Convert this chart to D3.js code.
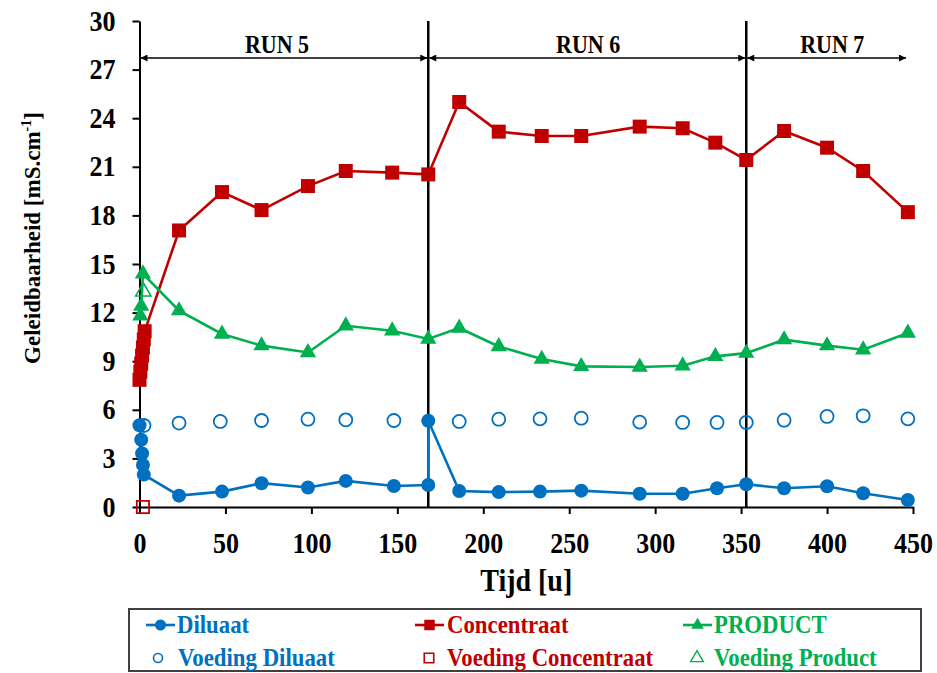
<!DOCTYPE html>
<html>
<head>
<meta charset="utf-8">
<script src="https://cdn.jsdelivr.net/npm/d3@7"></script>
<style>
  body { margin: 0; background: #fff; }
  svg text { font-family: "Liberation Serif", "Times New Roman", serif; font-weight: bold; }
  .stretch { transform-box: fill-box; transform-origin: 50% 50%; transform: scaleY(1.1); }
</style>
</head>
<body>
<div class="chart"></div>
<script>
// data (time in hours, conductivity in mS/cm)
var diluaatTijd = [0, 1, 1.5, 2, 2.5, 23, 48, 71, 98, 120, 148, 168, 168, 186, 209, 233, 257, 291, 316, 336, 353, 375, 400, 421, 447];
var diluaat     = [5.05, 4.15, 3.3, 2.6, 2.0, 0.7, 0.95, 1.47, 1.2, 1.61, 1.3, 1.36, 5.32, 0.99, 0.92, 0.95, 1.01, 0.82, 0.82, 1.16, 1.4, 1.16, 1.28, 0.85, 0.43];

var concentraatTijd = [0, 0.5, 1, 1.5, 2, 2.5, 3, 23, 48, 71, 98, 120, 147, 168, 186, 209, 234, 257, 291, 316, 335, 353, 375, 400, 421, 447];
var concentraat     = [7.85, 8.35, 8.85, 9.35, 9.85, 10.35, 10.85, 17.07, 19.44, 18.33, 19.81, 20.74, 20.64, 20.53, 25.0, 23.17, 22.9, 22.9, 23.48, 23.38, 22.49, 21.42, 23.21, 22.18, 20.74, 18.2];

var productTijd = [0.5, 1, 2, 23, 48, 71, 98, 120, 147, 168, 186, 209, 234, 257, 291, 316, 335, 353, 375, 400, 421, 447];
var product     = [11.8, 12.4, 14.4, 12.12, 10.68, 9.96, 9.54, 11.19, 10.88, 10.37, 11.05, 9.91, 9.13, 8.68, 8.64, 8.72, 9.3, 9.5, 10.33, 9.96, 9.71, 10.74];

var voedingDiluaatTijd = [2.6, 23, 47, 71, 98, 120, 148, 186, 209, 233, 257, 291, 316, 336, 353, 375, 400, 421, 447];
var voedingDiluaat     = [5.03, 5.18, 5.28, 5.34, 5.42, 5.38, 5.34, 5.28, 5.42, 5.44, 5.48, 5.24, 5.22, 5.22, 5.22, 5.36, 5.59, 5.63, 5.44];

var voedingConcentraatTijd = [2];
var voedingConcentraat     = [0];

var voedingProductTijd = [2.2];
var voedingProduct     = [13.3];

var runGrenzen = [0, 168, 353, 446.5];
var runNamen = ["RUN 5", "RUN 6", "RUN 7"];
var runLabelTijd = [80, 261, 403];

var xTicks = [0, 50, 100, 150, 200, 250, 300, 350, 400, 450];
var yTicks = [0, 3, 6, 9, 12, 15, 18, 21, 24, 27, 30];

var blauw = "#0070C0", rood = "#C00000", groen = "#00B050";

var svgWidth = 937, svgHeight = 673;

var svg = d3.select(".chart").append("svg")
  .attr("width", svgWidth)
  .attr("height", svgHeight);

var x = d3.scaleLinear().domain([0, 450]).range([139.5, 913]);
var y = d3.scaleLinear().domain([0, 30]).range([507, 21]);

function pairs(t, v) { return t.map(function(d, i) { return [d, v[i]]; }); }

// axes
var xAxis = svg.append("g")
  .attr("transform", "translate(0," + y(0) + ")")
  .call(d3.axisBottom(x).tickValues(xTicks).tickSize(7).tickSizeOuter(0).tickPadding(20));
var yAxis = svg.append("g")
  .attr("transform", "translate(" + x(0) + ",0)")
  .call(d3.axisLeft(y).tickValues(yTicks).tickSize(7).tickSizeOuter(0).tickPadding(17));

[xAxis, yAxis].forEach(function(a) {
  a.select(".domain").attr("stroke", "#000").attr("stroke-width", 2);
  a.selectAll(".tick line").attr("stroke", "#000").attr("stroke-width", 2);
  a.selectAll(".tick text").attr("fill", "#000").attr("class", "stretch").style("font-size", "26px");
});

// run separators
svg.selectAll(".sep")
  .data([runGrenzen[1], runGrenzen[2]])
  .enter().append("line")
  .attr("x1", d => x(d)).attr("x2", d => x(d))
  .attr("y1", y(30)).attr("y2", y(0))
  .attr("stroke", "#000").attr("stroke-width", 2.5);

// run arrows
var arrowY = 58;
var defs = svg.append("defs");
defs.append("marker").attr("id", "pijl")
  .attr("viewBox", "0 0 10 10").attr("refX", 10).attr("refY", 5)
  .attr("markerWidth", 9).attr("markerHeight", 7)
  .attr("markerUnits", "userSpaceOnUse")
  .attr("orient", "auto-start-reverse")
  .append("path").attr("d", "M0,0L10,5L0,10z").attr("fill", "#000");

runNamen.forEach(function(naam, i) {
  svg.append("line")
    .attr("x1", x(runGrenzen[i]) + 1).attr("x2", x(runGrenzen[i + 1]) - 1)
    .attr("y1", arrowY).attr("y2", arrowY)
    .attr("stroke", "#000").attr("stroke-width", 1.6)
    .attr("marker-start", "url(#pijl)").attr("marker-end", "url(#pijl)");
  svg.append("text")
    .attr("class", "stretch")
    .attr("x", x(runLabelTijd[i]))
    .attr("y", 52)
    .attr("text-anchor", "middle")
    .style("font-size", "22px")
    .text(naam);
});

// lines
var line = d3.line().x(d => x(d[0])).y(d => y(d[1]));
[[diluaatTijd, diluaat, blauw], [concentraatTijd, concentraat, rood], [productTijd, product, groen]]
  .forEach(function(s) {
    svg.append("path")
      .attr("d", line(pairs(s[0], s[1])))
      .attr("fill", "none").attr("stroke", s[2]).attr("stroke-width", 2.6);
  });

// markers
var sq = d3.symbol().type(d3.symbolSquare).size(196);
var tri = d3.symbol().type(d3.symbolTriangle).size(115);

svg.append("g").selectAll("circle")
  .data(pairs(diluaatTijd, diluaat)).enter().append("circle")
  .attr("cx", d => x(d[0])).attr("cy", d => y(d[1])).attr("r", 7)
  .attr("fill", blauw);

svg.append("g").selectAll("path")
  .data(pairs(concentraatTijd, concentraat)).enter().append("path")
  .attr("d", sq)
  .attr("transform", d => "translate(" + x(d[0]) + "," + y(d[1]) + ")")
  .attr("fill", rood);

svg.append("g").selectAll("path")
  .data(pairs(productTijd, product)).enter().append("path")
  .attr("d", tri)
  .attr("transform", d => "translate(" + x(d[0]) + "," + y(d[1]) + ")")
  .attr("fill", groen);

svg.append("g").selectAll("circle")
  .data(pairs(voedingDiluaatTijd, voedingDiluaat)).enter().append("circle")
  .attr("cx", d => x(d[0])).attr("cy", d => y(d[1])).attr("r", 6.5)
  .attr("fill", "none").attr("stroke", blauw).attr("stroke-width", 1.8);

svg.append("g").selectAll("path")
  .data(pairs(voedingConcentraatTijd, voedingConcentraat)).enter().append("path")
  .attr("d", d3.symbol().type(d3.symbolSquare).size(150))
  .attr("transform", d => "translate(" + x(d[0]) + "," + y(d[1]) + ")")
  .attr("fill", "none").attr("stroke", rood).attr("stroke-width", 1.8);

svg.append("g").selectAll("path")
  .data(pairs(voedingProductTijd, voedingProduct)).enter().append("path")
  .attr("d", d3.symbol().type(d3.symbolTriangle).size(100))
  .attr("transform", d => "translate(" + x(d[0]) + "," + y(d[1]) + ")")
  .attr("fill", "none").attr("stroke", groen).attr("stroke-width", 1.6);

// axis titles
svg.append("text")
  .attr("class", "stretch")
  .attr("x", (x(0) + x(450)) / 2).attr("y", 590)
  .attr("text-anchor", "middle")
  .style("font-size", "28px")
  .text("Tijd [u]");

var yTitle = svg.append("text")
  .attr("transform", "translate(40,238) rotate(-90)")
  .attr("text-anchor", "middle")
  .style("font-size", "23px");
yTitle.append("tspan").text("Geleidbaarheid [mS.cm");
yTitle.append("tspan").attr("dy", -9).style("font-size", "14px").text("-1");
yTitle.append("tspan").attr("dy", 9).text("]");

// legend
svg.append("rect")
  .attr("x", 129).attr("y", 609).attr("width", 792).attr("height", 62)
  .attr("fill", "#fff").attr("stroke", "#404040").attr("stroke-width", 2);

var legendItems = [
  { naam: "Diluaat", kleur: blauw, lx: 146, tx: 177, row: 0, vorm: "circle", lijn: true },
  { naam: "Concentraat", kleur: rood, lx: 415, tx: 447, row: 0, vorm: "square", lijn: true },
  { naam: "PRODUCT", kleur: groen, lx: 683, tx: 714, row: 0, vorm: "triangle", lijn: true },
  { naam: "Voeding Diluaat", kleur: blauw, lx: 152, tx: 178, row: 1, vorm: "circle", lijn: false },
  { naam: "Voeding Concentraat", kleur: rood, lx: 423, tx: 447, row: 1, vorm: "square", lijn: false },
  { naam: "Voeding Product", kleur: groen, lx: 691, tx: 714, row: 1, vorm: "triangle", lijn: false }
];

legendItems.forEach(function(it) {
  var cy = it.row === 0 ? 625 : 658;
  var g = svg.append("g");
  if (it.lijn) {
    g.append("line").attr("x1", it.lx).attr("x2", it.lx + 29)
      .attr("y1", cy).attr("y2", cy).attr("stroke", it.kleur).attr("stroke-width", 2.6);
    var mx = it.lx + 14.5;
    if (it.vorm === "circle") g.append("circle").attr("cx", mx).attr("cy", cy).attr("r", 5.5).attr("fill", it.kleur);
    if (it.vorm === "square") g.append("path").attr("d", d3.symbol().type(d3.symbolSquare).size(110)).attr("transform", "translate(" + mx + "," + cy + ")").attr("fill", it.kleur);
    if (it.vorm === "triangle") g.append("path").attr("d", d3.symbol().type(d3.symbolTriangle).size(70)).attr("transform", "translate(" + mx + "," + cy + ")").attr("fill", it.kleur);
  } else {
    var mx2 = it.lx + 6;
    if (it.vorm === "circle") g.append("circle").attr("cx", mx2).attr("cy", cy).attr("r", 4.5).attr("fill", "none").attr("stroke", it.kleur).attr("stroke-width", 1.6);
    if (it.vorm === "square") g.append("path").attr("d", d3.symbol().type(d3.symbolSquare).size(90)).attr("transform", "translate(" + mx2 + "," + cy + ")").attr("fill", "none").attr("stroke", it.kleur).attr("stroke-width", 1.6);
    if (it.vorm === "triangle") g.append("path").attr("d", d3.symbol().type(d3.symbolTriangle).size(70)).attr("transform", "translate(" + mx2 + "," + cy + ")").attr("fill", "none").attr("stroke", it.kleur).attr("stroke-width", 1.4);
  }
  g.append("text").attr("class", "stretch").attr("x", it.tx).attr("y", cy + 7)
    .attr("fill", it.kleur).style("font-size", "22.8px").text(it.naam);
});
</script>
</body>
</html>
